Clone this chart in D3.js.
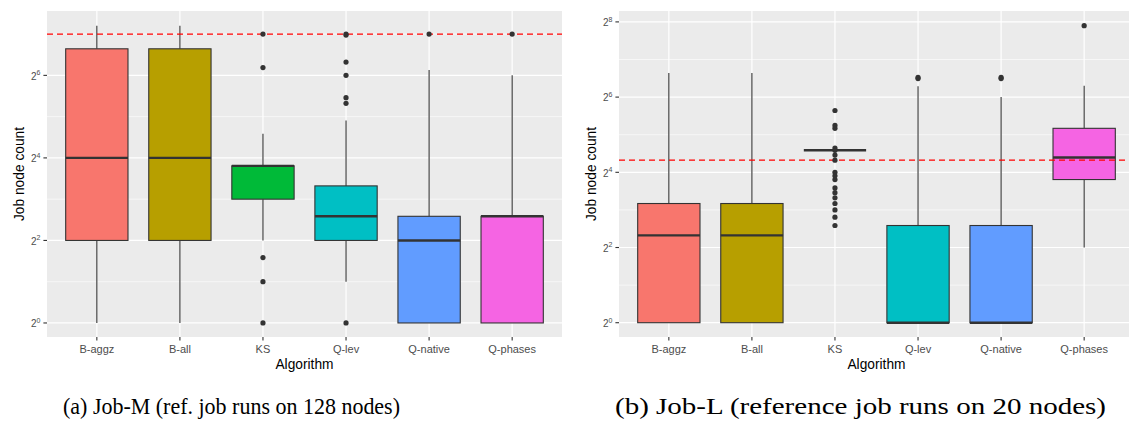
<!DOCTYPE html>
<html><head><meta charset="utf-8">
<script src="https://cdn.jsdelivr.net/npm/d3@7"></script>
<style>body{margin:0;background:#fff} svg{display:block}</style>
</head><body><svg id="c" width="1129" height="423"></svg>
<script>
// ---- data ----
const categories = ["B-aggz","B-all","KS","Q-lev","Q-native","Q-phases"];
const boxColors = ["#F8766D","#B79F00","#00BA38","#00BFC4","#619CFF","#F564E3"];

// Job-M (reference job runs on 128 nodes)
const jobM_low    = [1, 1, 4, 2, 1, 1];
const jobM_q1     = [4, 4, 8, 4, 1, 1];
const jobM_median = [16, 16, 14, 6, 4, 6];
const jobM_q3     = [100, 100, 14, 10, 6, 6];
const jobM_high   = [147, 147, 24, 30, 70, 64];
const jobM_outliers = [[], [], [128, 73, 3, 2, 1], [128, 126, 80, 64, 44, 40, 1], [128], [128]];
const jobM_ref = 128;

// Job-L (reference job runs on 20 nodes)
const jobL_low    = [1, 1, 24, 1, 1, 4];
const jobL_q1     = [1, 1, 24, 1, 1, 14];
const jobL_median = [5, 5, 24, 1, 1, 21];
const jobL_q3     = [9, 9, 24, 6, 6, 36];
const jobL_high   = [100, 100, 24, 78, 64, 79];
const jobL_outliers = [[], [], [50, 38, 36, 25, 24, 22, 20, 16, 15, 14, 12, 11, 10, 9, 8, 7, 6], [92, 90], [92, 90], [239]];
const jobL_ref = 20;

const yMajorExpM = [0, 2, 4, 6];
const yMinorExpM = [1, 3, 5, 7];
const yMajorExpL = [0, 2, 4, 6, 8];
const yMinorExpL = [1, 3, 5, 7];

const xTitle = "Algorithm";
const yTitle = "Job node count";
const captions = ["(a) Job-M (ref. job runs on 128 nodes)", "(b) Job-L (reference job runs on 20 nodes)"];

// ---- drawing ----
const svg = d3.select("#c");
svg.append("rect").attr("width",1129).attr("height",423).attr("fill","#fff");
const SANS = "'Liberation Sans', Arial, Helvetica, sans-serif";

function panel(o) {
  const g = svg.append("g");
  const step = (o.right - o.left) / (categories.length - 1 + 1.2);
  const xc = d3.scalePoint().domain(categories).range([o.left + 0.6*step, o.right - 0.6*step]);
  const bw = 0.75 * step;
  const y = d3.scaleLog().base(2).domain([Math.pow(2,o.expLo), Math.pow(2,o.expHi)]).range([o.bottom, o.top]);

  g.append("rect").attr("x",o.left).attr("y",o.top).attr("width",o.right-o.left).attr("height",o.bottom-o.top).attr("fill","#EBEBEB");
  o.minor.forEach(e => {
    g.append("line").attr("x1",o.left).attr("x2",o.right).attr("y1",y(2**e)).attr("y2",y(2**e))
      .attr("stroke","#fff").attr("stroke-width",0.6);
  });
  o.major.forEach(e => {
    g.append("line").attr("x1",o.left).attr("x2",o.right).attr("y1",y(2**e)).attr("y2",y(2**e))
      .attr("stroke","#fff").attr("stroke-width",1.2);
  });
  categories.forEach(c => {
    g.append("line").attr("x1",xc(c)).attr("x2",xc(c)).attr("y1",o.top).attr("y2",o.bottom)
      .attr("stroke","#fff").attr("stroke-width",1.2);
  });

  categories.forEach((c,i) => {
    const cx = xc(c);
    const bg = g.append("g");
    bg.append("line").attr("x1",cx).attr("x2",cx).attr("y1",y(o.q3[i])).attr("y2",y(o.high[i]))
      .attr("stroke","#333").attr("stroke-width",1.1);
    bg.append("line").attr("x1",cx).attr("x2",cx).attr("y1",y(o.q1[i])).attr("y2",y(o.low[i]))
      .attr("stroke","#333").attr("stroke-width",1.1);
    bg.append("rect").attr("x",cx-bw/2).attr("width",bw)
      .attr("y",y(o.q3[i])).attr("height",Math.max(0,y(o.q1[i])-y(o.q3[i])))
      .attr("fill",boxColors[i]).attr("stroke","#333").attr("stroke-width",1.1);
    bg.append("line").attr("x1",cx-bw/2).attr("x2",cx+bw/2).attr("y1",y(o.median[i])).attr("y2",y(o.median[i]))
      .attr("stroke","#333").attr("stroke-width",2.4);
  });
  g.append("line").attr("x1",o.left).attr("x2",o.right).attr("y1",y(o.ref)).attr("y2",y(o.ref))
    .attr("stroke","#FF0000").attr("stroke-width",1.3).attr("stroke-dasharray","6,4");
  categories.forEach((c,i) => {
    o.outliers[i].forEach(v => {
      g.append("circle").attr("cx",xc(c)).attr("cy",y(v)).attr("r",2.6).attr("fill","#333");
    });
  });

  o.major.forEach(e => {
    const yy = y(2**e);
    g.append("line").attr("x1",o.left-3.6).attr("x2",o.left).attr("y1",yy).attr("y2",yy)
      .attr("stroke","#333").attr("stroke-width",1.1);
    const t = g.append("text").attr("x",o.left-6.5).attr("y",yy+4.3).attr("text-anchor","end")
      .attr("font-family",SANS).attr("fill","#4D4D4D");
    t.append("tspan").attr("font-size",10).text("2");
    t.append("tspan").attr("font-size",7).attr("dy",-4.5).text(String(e));
  });
  categories.forEach(c => {
    g.append("line").attr("x1",xc(c)).attr("x2",xc(c)).attr("y1",o.bottom).attr("y2",o.bottom+3.6)
      .attr("stroke","#333").attr("stroke-width",1.1);
    g.append("text").attr("x",xc(c)).attr("y",o.bottom+15.5).attr("text-anchor","middle")
      .attr("font-family",SANS).attr("font-size",11).attr("fill","#4D4D4D").text(c);
  });
  g.append("text").attr("x",(o.left+o.right)/2).attr("y",368.5).attr("text-anchor","middle")
    .attr("font-family",SANS).attr("font-size",13.75).attr("fill","#000").text(xTitle);
  g.append("text").attr("transform",`translate(${o.ytx},${(o.top+o.bottom)/2}) rotate(-90)`)
    .attr("text-anchor","middle").attr("font-family",SANS).attr("font-size",13.75).attr("fill","#000").text(yTitle);
  g.append("text").attr("x",o.capX).attr("y",414).attr("text-anchor","middle")
    .attr("font-family","'Liberation Serif','DejaVu Serif',serif").attr("font-size",24)
    .attr("textLength",o.capW).attr("lengthAdjust","spacingAndGlyphs").attr("fill","#000").text(o.caption);
}

panel({left:47, right:562, top:11, bottom:337, expLo:-0.34, expHi:7.56,
  major:yMajorExpM, minor:yMinorExpM, low:jobM_low, q1:jobM_q1, median:jobM_median, q3:jobM_q3, high:jobM_high,
  outliers:jobM_outliers, ref:jobM_ref, ytx:24, capX:231.5, capW:337, caption:captions[0]});
panel({left:619, right:1134, top:11, bottom:337, expLo:-0.38, expHi:8.29,
  major:yMajorExpL, minor:yMinorExpL, low:jobL_low, q1:jobL_q1, median:jobL_median, q3:jobL_q3, high:jobL_high,
  outliers:jobL_outliers, ref:jobL_ref, ytx:595.5, capX:860.5, capW:491, caption:captions[1]});
</script>
</body></html>
